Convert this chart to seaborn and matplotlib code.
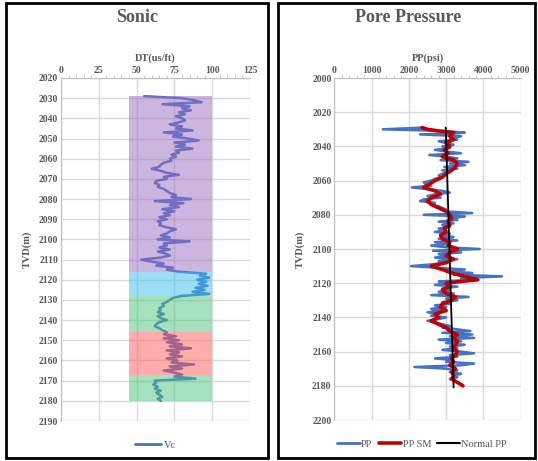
import numpy as np
import pandas as pd
import seaborn as sns
import matplotlib.pyplot as plt
from matplotlib.patches import Rectangle
from matplotlib.lines import Line2D
from matplotlib.ticker import MultipleLocator

# Sonic log, 1 m steps
vc_depth = list(range(2029, 2181))
vc = [55, 80, 88, 93, 67, 85, 80, 86, 78, 82, 76, 80, 82, 78, 72, 80, 76, 87, 68, 80,
      74, 84, 91, 75, 82, 76, 87, 76, 78, 73, 76, 72, 73, 68, 66, 65, 60, 66, 70, 78,
      68, 70, 63, 62, 65, 64, 68, 70, 72, 76, 73, 86, 62, 81, 72, 78, 67, 75, 68, 72,
      65, 70, 64, 66, 65, 70, 76, 72, 70, 66, 72, 64, 85, 68, 70, 65, 72, 64, 69, 72,
      66, 53, 60, 68, 63, 74, 70, 78, 96, 92, 98, 90, 96, 91, 97, 89, 95, 87, 98, 80,
      74, 72, 70, 67, 68, 65, 66, 64, 68, 64, 66, 70, 65, 63, 62, 65, 67, 70, 68, 76,
      68, 78, 70, 80, 72, 86, 70, 78, 72, 80, 70, 77, 73, 88, 72, 80, 68, 75, 80, 75,
      89, 62, 63, 61, 64, 62, 66, 63, 65, 67, 64, 66]

# facies bands (depth top / bottom)
band_top = [2029, 2116, 2128, 2146, 2167]
band_bottom = [2116, 2128, 2146, 2167, 2180]
band_colors = ['#9b6fc0', '#3cbef0', '#4cc47c', '#ff5a5a', '#4cc47c']
band_left = 45
band_right = 100

# Pore pressure, 1 m steps
pp_depth = list(range(2029, 2181))
pp = [2400, 1300, 3000, 3500, 2300, 3400, 3100, 3300, 2800, 3000, 3200, 2900, 3100, 2700,
      3000, 3400, 2550, 3000, 3300, 2850, 3600, 3100, 3500, 2950, 3300, 2900, 3100, 2900,
      2800, 2850, 2700, 2600, 2400, 2450, 2600, 2080, 2500, 2900, 3100, 2700, 2500, 2850,
      2400, 2300, 2700, 2600, 2800, 2900, 3000, 3000, 3700, 2400, 3500, 3100, 3300, 2800,
      3200, 2900, 3100, 2800, 3000, 2700, 3100, 2900, 3200, 2800, 3300, 2700, 3100, 2600,
      3000, 3900, 2650, 3400, 2800, 3100, 2700, 3300, 2800, 3000, 2600, 2060, 2800, 3500,
      3000, 3700, 3200, 4500, 3400, 3700, 2800, 3100, 2700, 3300, 2900, 3100, 2800, 3200,
      2600, 3600, 3000, 3300, 2900, 3100, 2700, 3000, 2600, 2900, 2500, 2800, 2600, 3000,
      2800, 2500, 2700, 2900, 3100, 2900, 3300, 3650, 2900, 3700, 3100, 3750, 2800, 3400,
      3000, 3500, 3100, 3300, 2900, 3400, 3750, 3100, 3300, 2700, 3200, 3000, 3750, 3400,
      2150, 3000, 3300, 3100, 3400, 3200, 3300, 3100, 3200, 3300, 3400, 3450]

sm_depth = [2029, 2030, 2031, 2032, 2034, 2036, 2038, 2040, 2042, 2044, 2046, 2048, 2050,
            2052, 2054, 2056, 2058, 2060, 2062, 2064, 2066, 2068, 2070, 2072, 2074, 2076,
            2078, 2080, 2082, 2084, 2086, 2088, 2090, 2092, 2094, 2096, 2098, 2100, 2102,
            2104, 2106, 2108, 2110, 2112, 2114, 2116, 2118, 2119, 2120, 2122, 2124, 2126,
            2128, 2130, 2132, 2134, 2136, 2138, 2140, 2142, 2144, 2146, 2148, 2150, 2152,
            2154, 2156, 2158, 2160, 2162, 2164, 2166, 2168, 2170, 2172, 2174, 2176, 2178, 2180]
pp_sm = [2350, 2500, 2800, 3200, 3100, 3200, 3000, 3100, 2950, 3050, 2900, 3200, 3300,
         3250, 3150, 3000, 2900, 2700, 2550, 2400, 2700, 2850, 2600, 2500, 2600, 2800,
         3000, 3100, 3150, 3050, 3100, 2950, 3000, 2850, 2900, 3100, 3050, 3300, 3100,
         3000, 3200, 3000, 2600, 2900, 3150, 3500, 3850, 3400, 3000, 3100, 2900, 3000,
         3250, 3150, 2900, 2850, 3000, 2700, 2800, 2600, 2800, 3000, 3100, 3300, 3200,
         3300, 3250, 3200, 3300, 3250, 3150, 3200, 3100, 3250, 3150, 3200, 3150, 3300, 3450]

normal_depth = [2029, 2181]
normal_pp = [2990, 3200]

text_color = '#595959'
grid_color = '#d9d9d9'
serif = ['Liberation Serif', 'DejaVu Serif']

sns.set_style('white')
plt.rcParams['font.family'] = serif

fig = plt.figure(figsize=(5.38, 4.61), dpi=100)

# panel borders
fig.patches.append(Rectangle((6 / 538, 3 / 461), 262 / 538, 455 / 461, transform=fig.transFigure,
                             fill=False, edgecolor='black', linewidth=2))
fig.patches.append(Rectangle((278 / 538, 3 / 461), 257 / 538, 455 / 461, transform=fig.transFigure,
                             fill=False, edgecolor='black', linewidth=2))

ax1 = fig.add_axes([61 / 538, 1 - 421 / 461, 189 / 538, 343 / 461])
ax2 = fig.add_axes([334.3 / 538, 1 - 420 / 461, 186.4 / 538, 342 / 461])


def style_axis(ax, xlim, ylim, xmaj, xmin, ymaj, ymin):
    ax.set_xlim(*xlim)
    ax.set_ylim(*ylim)
    ax.xaxis.set_major_locator(MultipleLocator(xmaj))
    ax.xaxis.set_minor_locator(MultipleLocator(xmin))
    ax.yaxis.set_major_locator(MultipleLocator(ymaj))
    ax.yaxis.set_minor_locator(MultipleLocator(ymin))
    ax.xaxis.tick_top()
    ax.xaxis.set_label_position('top')
    ax.grid(True, which='major', color=grid_color, linewidth=1)
    ax.set_axisbelow(True)
    for s in ['right', 'bottom']:
        ax.spines[s].set_visible(False)
    for s in ['top', 'left']:
        ax.spines[s].set_color('#bfbfbf')
        ax.spines[s].set_linewidth(0.8)
    ax.tick_params(which='both', colors='#bfbfbf', labelcolor=text_color, labelsize=7,
                   length=2, width=0.6, pad=2)
    ax.tick_params(which='major', length=0)
    for lab in ax.get_xticklabels() + ax.get_yticklabels():
        lab.set_fontweight('bold')


# Sonic
sonic = pd.DataFrame({'depth': vc_depth, 'Vc': vc})
sns.lineplot(data=sonic, x='Vc', y='depth', orient='y', sort=False, estimator=None,
             color='#4472C4', linewidth=1.8, ax=ax1, zorder=2)
for top, bot, c in zip(band_top, band_bottom, band_colors):
    ax1.fill_betweenx([top, bot], band_left, band_right, color=c, alpha=0.5, linewidth=0, zorder=3)
style_axis(ax1, (0, 125), (2190, 2020), 25, 5, 10, 2)
ax1.set_xlabel('DT(us/ft)', fontsize=7.5, fontweight='bold', color=text_color, labelpad=4)
ax1.set_ylabel('TVD(m)', fontsize=7.5, fontweight='bold', color=text_color, labelpad=5)
ax1.legend(handles=[Line2D([], [], color='#4472C4', linewidth=2)], labels=['Vc'],
           loc='upper center', bbox_to_anchor=(0.5, -0.03), frameon=False, fontsize=7.5,
           handlelength=2.5, handletextpad=0.2, labelcolor=text_color)

# Pore pressure
ppdf = pd.DataFrame({'depth': pp_depth, 'PP': pp})
smdf = pd.DataFrame({'depth': sm_depth, 'PP SM': pp_sm})
ndf = pd.DataFrame({'depth': normal_depth, 'Normal PP': normal_pp})
sns.lineplot(data=ppdf, x='PP', y='depth', orient='y', sort=False, estimator=None,
             color='#4472C4', linewidth=1.8, ax=ax2)
sns.lineplot(data=smdf, x='PP SM', y='depth', orient='y', sort=False, estimator=None,
             color='#C00000', linewidth=2.6, ax=ax2)
sns.lineplot(data=ndf, x='Normal PP', y='depth', orient='y', sort=False, estimator=None,
             color='black', linewidth=1.3, ax=ax2)
style_axis(ax2, (0, 5000), (2200, 2000), 1000, 200, 20, 4)
ax2.set_xlabel('PP(psi)', fontsize=7.5, fontweight='bold', color=text_color, labelpad=4)
ax2.set_ylabel('TVD(m)', fontsize=7.5, fontweight='bold', color=text_color, labelpad=5)
handles = [Line2D([], [], color='#4472C4', linewidth=2),
           Line2D([], [], color='#C00000', linewidth=2.6),
           Line2D([], [], color='black', linewidth=1.5)]
ax2.legend(handles=handles, labels=['PP', 'PP SM', 'Normal PP'], loc='upper center',
           bbox_to_anchor=(0.47, -0.03), frameon=False, fontsize=7.5, ncol=3,
           handlelength=2.2, columnspacing=0.6, handletextpad=0.1, labelcolor=text_color)

fig.text(137 / 538, 1 - 18 / 461, 'Sonic', ha='center', va='center', fontsize=13,
         fontweight='bold', color=text_color)
fig.text(408 / 538, 1 - 18 / 461, 'Pore Pressure', ha='center', va='center', fontsize=13,
         fontweight='bold', color=text_color)

fig.savefig('out.png', dpi=100)
